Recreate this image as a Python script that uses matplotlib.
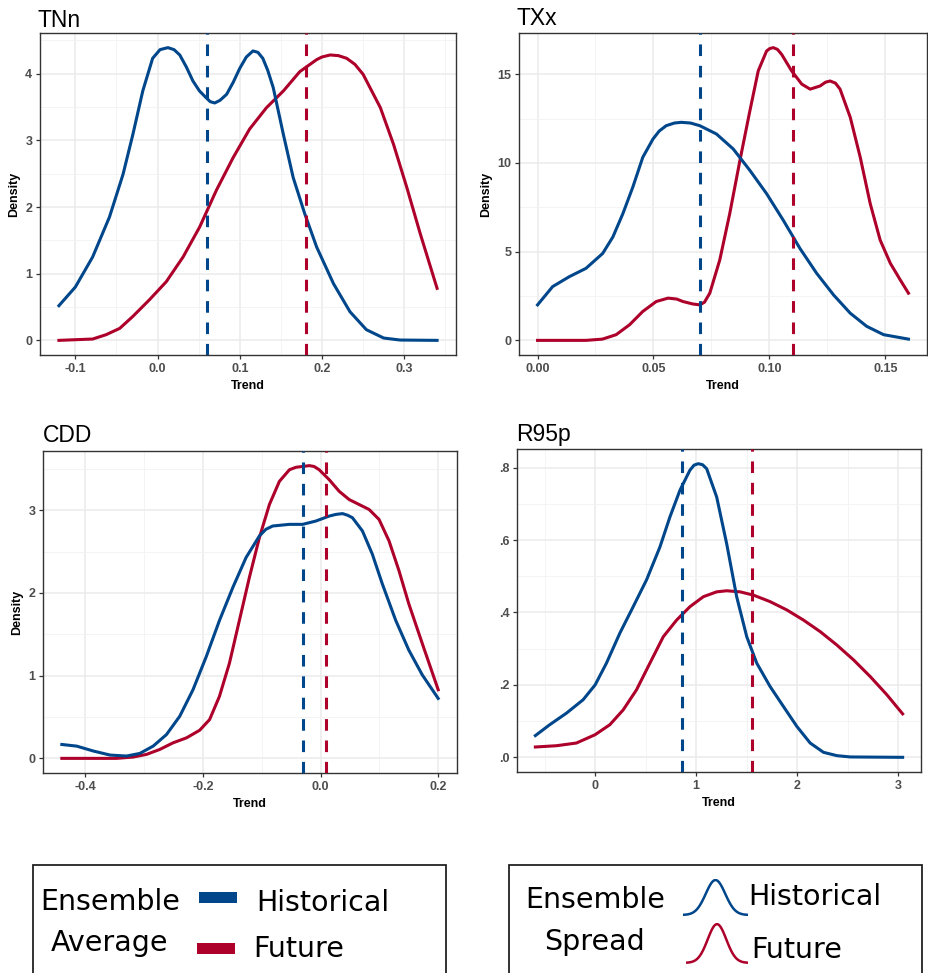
import numpy as np
import matplotlib
matplotlib.use("Agg")
import matplotlib.pyplot as plt
from matplotlib import patches
from matplotlib.ticker import AutoMinorLocator

W, H = 929, 973
BLUE = '#00468B'
RED = '#AD002A'

# TNn density curves
tnn_hist_x = [-0.120, -0.100, -0.079, -0.0585, -0.042, -0.030, -0.018, -0.006, 0.003, 0.0126, 0.020,
              0.027, 0.035, 0.043, 0.051, 0.059, 0.064, 0.0695, 0.076, 0.084, 0.092, 0.100,
              0.108, 0.116, 0.122, 0.128, 0.134, 0.1407, 0.153, 0.165, 0.179, 0.1935,
              0.214, 0.234, 0.254, 0.275, 0.295, 0.340]
tnn_hist_y = [0.52, 0.80, 1.25, 1.85, 2.49, 3.09, 3.74, 4.23, 4.36, 4.39, 4.36,
              4.28, 4.10, 3.89, 3.74, 3.64, 3.58, 3.56, 3.60, 3.69, 3.87, 4.08,
              4.25, 4.34, 4.32, 4.23, 4.05, 3.79, 3.09, 2.44, 1.90, 1.40,
              0.85, 0.43, 0.16, 0.035, 0.005, 0.0]
tnn_fut_x = [-0.120, -0.079, -0.0626, -0.046, -0.030, -0.0098, 0.0106, 0.031, 0.0512, 0.0715, 0.0919,
             0.112, 0.1325, 0.153, 0.173, 0.1935, 0.200, 0.210, 0.220, 0.230, 0.240, 0.250,
             0.271, 0.287, 0.303, 0.3195, 0.340]
tnn_fut_y = [0.0, 0.02, 0.085, 0.18, 0.36, 0.61, 0.88, 1.25, 1.70, 2.25, 2.74,
             3.17, 3.49, 3.74, 4.03, 4.21, 4.25, 4.28, 4.27, 4.23, 4.14, 3.99,
             3.49, 2.94, 2.30, 1.60, 0.78]
tnn_means = [0.06, 0.18]

# TXx
txx_hist_x = [0.0, 0.0065, 0.0137, 0.0209, 0.0281, 0.0325, 0.0368, 0.0411, 0.0454, 0.0498, 0.0525,
              0.0555, 0.059, 0.062, 0.066, 0.070, 0.0772, 0.0844, 0.0916, 0.0988, 0.106, 0.1132,
              0.1204, 0.1277, 0.1349, 0.142, 0.1493, 0.160]
txx_hist_y = [2.0, 3.03, 3.59, 4.06, 4.90, 5.83, 7.14, 8.64, 10.32, 11.35, 11.8,
              12.10, 12.25, 12.29, 12.25, 12.10, 11.63, 10.79, 9.58, 8.27, 6.77, 5.18,
              3.78, 2.56, 1.53, 0.79, 0.32, 0.07]
txx_fut_x = [0.0, 0.0209, 0.028, 0.0339, 0.0397, 0.0454, 0.0512, 0.0563, 0.060, 0.0627, 0.067,
             0.070, 0.072, 0.0743, 0.0786, 0.0829, 0.0873, 0.0916, 0.0952, 0.0988, 0.1002, 0.1017,
             0.1035, 0.1053, 0.1096, 0.114, 0.1176, 0.1219, 0.1242, 0.1262, 0.1285, 0.1305,
             0.1349, 0.1392, 0.1435, 0.1478, 0.1522, 0.1565, 0.160]
txx_fut_y = [0.0, 0.0, 0.07, 0.32, 0.88, 1.63, 2.19, 2.38, 2.33, 2.19, 2.05,
             2.0, 2.15, 2.66, 4.53, 7.14, 10.14, 12.94, 15.19, 16.31, 16.45, 16.5,
             16.4, 16.12, 15.19, 14.44, 14.16, 14.34, 14.55, 14.62, 14.5, 14.16,
             12.57, 10.32, 7.71, 5.65, 4.34, 3.40, 2.66]
txx_means = [0.07, 0.11]

# CDD
cdd_hist_x = [-0.440, -0.4147, -0.386, -0.358, -0.330, -0.3073, -0.2847, -0.262, -0.2395, -0.217, -0.1944,
              -0.1718, -0.149, -0.1266, -0.104, -0.093, -0.0814, -0.053, -0.0305, -0.008, 0.0147, 0.026,
              0.0373, 0.046, 0.0542, 0.0712, 0.088, 0.105, 0.1277, 0.150, 0.1729, 0.200]
cdd_hist_y = [0.168, 0.148, 0.088, 0.04, 0.028, 0.06, 0.148, 0.288, 0.509, 0.829, 1.23,
              1.67, 2.07, 2.43, 2.69, 2.77, 2.81, 2.83, 2.83, 2.87, 2.93, 2.95,
              2.96, 2.94, 2.91, 2.75, 2.47, 2.11, 1.67, 1.31, 1.01, 0.725]
cdd_fut_x = [-0.440, -0.347, -0.3186, -0.296, -0.2734, -0.2508, -0.228, -0.2056, -0.1887, -0.172, -0.155,
             -0.138, -0.121, -0.104, -0.087, -0.070, -0.053, -0.042, -0.0305, -0.0192, -0.011, -0.0023,
             0.0147, 0.0316, 0.0486, 0.0655, 0.0825, 0.0994, 0.1164, 0.1333, 0.150, 0.1729, 0.200]
cdd_fut_y = [0.0, 0.0, 0.016, 0.048, 0.108, 0.188, 0.248, 0.34, 0.469, 0.749, 1.15,
             1.67, 2.19, 2.67, 3.07, 3.35, 3.49, 3.52, 3.53, 3.54, 3.53, 3.49,
             3.37, 3.23, 3.13, 3.07, 3.01, 2.89, 2.63, 2.27, 1.87, 1.39, 0.83]
cdd_means = [-0.03, 0.01]

# R95p
r95_hist_x = [-0.592, -0.45, -0.284, -0.119, 0.0, 0.112, 0.245, 0.377, 0.509, 0.642, 0.741,
              0.84, 0.939, 0.98, 1.022, 1.065, 1.105, 1.204, 1.303, 1.402, 1.502, 1.601, 1.733, 1.865,
              1.998, 2.13, 2.262, 2.395, 2.527, 3.046]
r95_hist_y = [0.06, 0.09, 0.122, 0.159, 0.2, 0.26, 0.343, 0.416, 0.49, 0.581, 0.664,
              0.7375, 0.793, 0.807, 0.811, 0.808, 0.797, 0.719, 0.59, 0.4436, 0.333, 0.26, 0.1956, 0.1405,
              0.0854, 0.0395, 0.0138, 0.0046, 0.001, 0.0]
r95_fut_x = [-0.592, -0.384, -0.185, 0.0, 0.1455, 0.278, 0.41, 0.5425, 0.675, 0.807, 0.939,
             1.072, 1.204, 1.303, 1.436, 1.568, 1.733, 1.899, 2.064, 2.23, 2.395, 2.56,
             2.725, 2.89, 3.046]
r95_fut_y = [0.0285, 0.032, 0.0395, 0.0625, 0.09, 0.131, 0.1865, 0.26, 0.333, 0.379, 0.416,
             0.4436, 0.457, 0.46, 0.457, 0.448, 0.43, 0.407, 0.379, 0.347, 0.31, 0.269,
             0.223, 0.1727, 0.12]
r95_means = [0.86, 1.55]

panels = [
    dict(title='TNn', box=(40, 33, 456, 355), title_xy=(38, 27),
         hist=(tnn_hist_x, tnn_hist_y), fut=(tnn_fut_x, tnn_fut_y), means=tnn_means,
         xticks=[-0.1, 0.0, 0.1, 0.2, 0.3], xlabels=['-0.1', '0.0', '0.1', '0.2', '0.3'],
         yticks=[0, 1, 2, 3, 4], ylabels=['0', '1', '2', '3', '4'], density=True),
    dict(title='TXx', box=(519, 33, 927, 355), title_xy=(517, 25),
         hist=(txx_hist_x, txx_hist_y), fut=(txx_fut_x, txx_fut_y), means=txx_means,
         xticks=[0.0, 0.05, 0.10, 0.15], xlabels=['0.00', '0.05', '0.10', '0.15'],
         yticks=[0, 5, 10, 15], ylabels=['0', '5', '10', '15'], density=True),
    dict(title='CDD', box=(43, 451, 457, 773), title_xy=(43, 442),
         hist=(cdd_hist_x, cdd_hist_y), fut=(cdd_fut_x, cdd_fut_y), means=cdd_means,
         xticks=[-0.4, -0.2, 0.0, 0.2], xlabels=['-0.4', '-0.2', '0.0', '0.2'],
         yticks=[0, 1, 2, 3], ylabels=['0', '1', '2', '3'], density=True),
    dict(title='R95p', box=(517, 449, 921, 772), title_xy=(516, 441),
         hist=(r95_hist_x, r95_hist_y), fut=(r95_fut_x, r95_fut_y), means=r95_means,
         xticks=[0, 1, 2, 3], xlabels=['0', '1', '2', '3'],
         yticks=[0.0, 0.2, 0.4, 0.6, 0.8], ylabels=['.0', '.2', '.4', '.6', '.8'], density=False),
]


def expand(*arrs):
    lo = min(min(a) for a in arrs)
    hi = max(max(a) for a in arrs)
    pad = 0.05 * (hi - lo)
    return lo - pad, hi + pad


fig = plt.figure(figsize=(W / 100, H / 100), dpi=100)

for p in panels:
    l, t, r, b = p['box']
    ax = fig.add_axes([l / W, 1 - b / H, (r - l) / W, (b - t) / H])
    hx, hy = p['hist']
    fx, fy = p['fut']

    ax.plot(fx, fy, color=RED, lw=2.2, solid_joinstyle='round', zorder=3)
    ax.plot(hx, hy, color=BLUE, lw=2.2, solid_joinstyle='round', zorder=3)
    ax.axvline(p['means'][0], color=BLUE, lw=2.2, ls=(0, (3.8, 3.2)), zorder=4)
    ax.axvline(p['means'][1], color=RED, lw=2.2, ls=(0, (3.8, 3.2)), zorder=4)

    ax.set_xlim(*expand(hx, fx))
    ax.set_ylim(*expand(hy, fy, [0]))
    ax.set_xticks(p['xticks'])
    ax.set_xticklabels(p['xlabels'])
    ax.set_yticks(p['yticks'])
    ax.set_yticklabels(p['ylabels'])
    ax.xaxis.set_minor_locator(AutoMinorLocator(2))
    ax.yaxis.set_minor_locator(AutoMinorLocator(2))

    ax.grid(which='major', color='#EBEBEB', lw=1.1, zorder=0)
    ax.grid(which='minor', color='#F2F2F2', lw=0.6, zorder=0)
    ax.set_axisbelow(True)
    for s in ax.spines.values():
        s.set_color('#333333')
        s.set_linewidth(1.0)
    ax.tick_params(which='major', direction='out', length=3, width=0.9, color='#333333',
                   labelsize=9, labelcolor='#4D4D4D', pad=2.5)
    ax.tick_params(which='minor', length=0)
    for lab in ax.get_xticklabels() + ax.get_yticklabels():
        lab.set_fontweight('bold')
        lab.set_fontfamily('Liberation Sans')

    ax.set_xlabel('Trend', fontsize=9, fontweight='bold', family='Liberation Sans', labelpad=4)
    if p['density']:
        ax.set_ylabel('Density', fontsize=9, fontweight='bold', family='Liberation Sans', labelpad=4)

    tx, ty = p['title_xy']
    fig.text(tx / W, 1 - ty / H, p['title'], fontsize=16.5, family='Liberation Sans',
             ha='left', va='baseline')

# legends at the bottom
fs = 20.5
for x0, x1 in [(33, 446), (509, 922)]:
    fig.patches.append(patches.Rectangle((x0 / W, -0.05), (x1 - x0) / W, 0.05 + 1 - 865 / H,
                                         transform=fig.transFigure, fill=False,
                                         edgecolor='#222222', lw=1.3))


def ftext(x, y, s):
    fig.text(x / W, 1 - y / H, s, fontsize=fs, family='DejaVu Sans', ha='left', va='baseline')


ftext(40, 910, 'Ensemble')
ftext(51, 951, 'Average')
ftext(256, 911, 'Historical')
ftext(253, 957, 'Future')
for (x0, y0, x1, y1), c in [((199, 892, 237, 903), BLUE), ((197, 943, 235, 954), RED)]:
    fig.patches.append(patches.Rectangle((x0 / W, 1 - y1 / H), (x1 - x0) / W, (y1 - y0) / H,
                                         transform=fig.transFigure, facecolor=c, edgecolor='none'))

ftext(525, 908, 'Ensemble')
ftext(544, 950, 'Spread')
ftext(748, 905, 'Historical')
ftext(751, 958, 'Future')

bell_x = np.linspace(-1, 1, 120)
bell_y = np.exp(-0.5 * (bell_x / 0.3) ** 2)
for (x0, y0, x1, y1), c in [((683, 879, 748, 916), BLUE), ((686, 923, 748, 964), RED)]:
    iax = fig.add_axes([x0 / W, 1 - y1 / H, (x1 - x0) / W, (y1 - y0) / H])
    iax.plot(bell_x, bell_y, color=c, lw=1.8)
    iax.set_xlim(-1, 1)
    iax.set_ylim(-0.03, 1.03)
    iax.axis('off')

fig.savefig('out.png', dpi=100)
